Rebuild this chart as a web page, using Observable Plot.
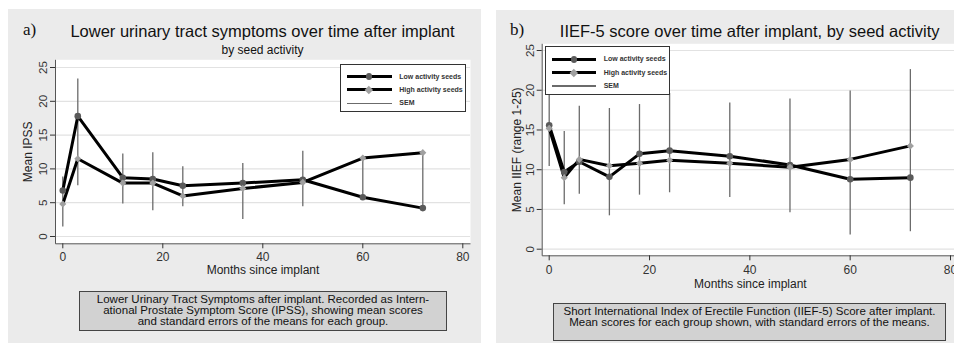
<!DOCTYPE html>
<html><head><meta charset="utf-8">
<script src="https://cdn.jsdelivr.net/npm/d3@7"></script>
<script src="https://cdn.jsdelivr.net/npm/@observablehq/plot@0.6"></script>
<style>
body{margin:0;background:#fff;font-family:"Liberation Sans",Arial,Helvetica,sans-serif;color:#111;}
#root{position:relative;width:954px;height:348px;overflow:hidden;background:#fff;}
.panel{position:absolute;background:#ebebeb;}
.abs{position:absolute;white-space:nowrap;}
.title{font-size:16.5px;line-height:1;text-align:center;}
.sub{font-size:12px;line-height:1;text-align:center;}
.tag{font-family:"Liberation Serif","Times New Roman",serif;font-size:17px;line-height:1;}
.caption{position:absolute;box-sizing:border-box;border:1px solid #444;background:#d2d2d2;text-align:center;font-size:11.5px;white-space:nowrap;}
.legend{position:absolute;box-sizing:border-box;border:1px solid #333;background:#fff;}
.lg-line{position:absolute;background:#000;}
.lg-text{position:absolute;font-size:7px;font-weight:bold;line-height:8px;margin-top:-4px;color:#333;}
.lg-dot{position:absolute;width:6.6px;height:6.6px;margin:-3.3px 0 0 -3.3px;border-radius:50%;background:#5a5a5a;}
.lg-dia{position:absolute;width:5.6px;height:5.6px;margin:-2.8px 0 0 -2.8px;background:#a0a0a0;transform:rotate(45deg);}
svg{position:absolute;overflow:visible;}
</style></head><body><div id="root"></div>
<script>
// ---- data ----
const seriesNames = ["Low activity seeds", "High activity seeds", "SEM"];
const xTicks = [0, 20, 40, 60, 80];
const yTicks = [0, 5, 10, 15, 20, 25];

const monthsA = [0, 3, 12, 18, 24, 36, 48, 60, 72];
const ipssLow = [6.8, 17.8, 8.7, 8.5, 7.5, 7.9, 8.4, 5.8, 4.2];
const ipssHigh = [4.8, 11.5, 7.9, 7.9, 6.0, 7.1, 8.0, 11.6, 12.4];
const ipssSemUpper = [8.8, 23.3, 12.2, 12.4, 10.3, 10.8, 12.6, 11.6, 12.4];
const ipssSemLower = [1.4, 7.5, 4.8, 3.8, 4.4, 2.5, 4.4, 5.8, 4.2];

const monthsB = [0, 3, 6, 12, 18, 24, 36, 48, 60, 72];
const iiefLow = [15.6, 9.7, 11.0, 9.1, 12.0, 12.4, 11.7, 10.6, 8.8, 9.0];
const iiefHigh = [15.2, 9.0, 11.3, 10.5, 10.8, 11.2, 10.8, 10.3, 11.3, 13.0];
const iiefSemUpper = [20.8, 14.8, 18.0, 17.7, 18.2, 19.6, 18.4, 18.9, 19.9, 22.6];
const iiefSemLower = [10.4, 5.6, 6.9, 4.2, 6.8, 7.1, 6.5, 4.6, 1.8, 2.2];

const root = document.getElementById("root");
const FONT = '"Liberation Sans", Arial, Helvetica, sans-serif';

function add(html) { root.insertAdjacentHTML("beforeend", html); }

function panelPlot(o) {
  const rows = o.months.map((m, i) => ({m, low: o.low[i], high: o.high[i], up: o.up[i], lo: o.lo[i]}));
  const W = o.width - o.ml - o.mr, H = o.height - o.mt - o.mb;
  const svg = Plot.plot({
    width: o.width, height: o.height,
    marginLeft: o.ml, marginRight: o.mr, marginTop: o.mt, marginBottom: o.mb,
    x: {domain: [0, 80], insetLeft: o.il, insetRight: o.ir, label: null},
    y: {domain: [0, 25], insetTop: o.it, insetBottom: o.ib, label: null},
    style: {background: "transparent", fontFamily: FONT, overflow: "visible"},
    marks: [
      Plot.frame({fill: "white", stroke: null}),
      Plot.gridY(yTicks, {stroke: "#e2e2e2", strokeOpacity: 1, strokeWidth: 1.2}),
      Plot.frame({fill: "none", stroke: "#555", strokeWidth: 1, strokeDasharray: `0,${W + H},${W + H + 2}`}),
      Plot.axisY(yTicks, {tickSize: 5, tickPadding: o.ytp, tickRotate: -90, fontSize: 11.5, color: "#333", label: null}),
      Plot.axisX(xTicks, {tickSize: 5, tickPadding: o.xtp, fontSize: 12, color: "#333", label: null}),
      Plot.text([o.ylabel], {text: d => d, frameAnchor: "left", textAnchor: "middle", lineAnchor: "middle", rotate: -90, dx: o.ylx, fontSize: 12, fill: "#222"}),
      Plot.text(["Months since implant"], {text: d => d, frameAnchor: "bottom", textAnchor: "middle", lineAnchor: "middle", dy: o.xly, fontSize: 12, fill: "#222"}),
      Plot.ruleX(rows, {x: "m", y1: "lo", y2: "up", stroke: "#6b6b6b", strokeWidth: 1.3}),
      Plot.line(rows, {x: "m", y: "low", stroke: "#000", strokeWidth: 3, strokeLinejoin: "round"}),
      Plot.line(rows, {x: "m", y: "high", stroke: "#000", strokeWidth: 3, strokeLinejoin: "round"}),
      Plot.dot(rows, {x: "m", y: "low", r: 3.3, fill: "#5a5a5a", symbol: "circle"}),
      Plot.dot(rows, {x: "m", y: "high", r: 3.2, fill: "#a0a0a0", symbol: "diamond2"})
    ]
  });
  svg.style.left = o.left + "px";
  svg.style.top = o.top + "px";
  return svg;
}

function legend(left, top, w, h, rowsY, lineLeft, lineW, textLeft) {
  const mid = lineLeft + lineW / 2;
  add(`<div class="legend" style="left:${left}px;top:${top}px;width:${w}px;height:${h}px">
    <div class="lg-line" style="left:${lineLeft}px;top:${rowsY[0] - 1.5}px;width:${lineW}px;height:3px"></div>
    <div class="lg-dot" style="left:${mid}px;top:${rowsY[0]}px"></div>
    <div class="lg-text" style="left:${textLeft}px;top:${rowsY[0]}px">${seriesNames[0]}</div>
    <div class="lg-line" style="left:${lineLeft}px;top:${rowsY[1] - 1.5}px;width:${lineW}px;height:3px"></div>
    <div class="lg-dia" style="left:${mid}px;top:${rowsY[1]}px"></div>
    <div class="lg-text" style="left:${textLeft}px;top:${rowsY[1]}px">${seriesNames[1]}</div>
    <div class="lg-line" style="left:${lineLeft}px;top:${rowsY[2] - 0.6}px;width:${lineW}px;height:1.2px;background:#6b6b6b"></div>
    <div class="lg-text" style="left:${textLeft}px;top:${rowsY[2]}px">${seriesNames[2]}</div>
  </div>`);
}

// ---- panel a ----
add(`<div class="panel" style="left:8px;top:9px;width:473px;height:334px"></div>`);
root.appendChild(panelPlot({
  left: 8, top: 9, width: 473, height: 334, ml: 47, mr: 11, mt: 50.3, mb: 99.7,
  il: 7.3, ir: 7.7, it: 7.7, ib: 7.3, ytp: 4, xtp: 4, ylx: -27, xly: 26.7,
  months: monthsA, low: ipssLow, high: ipssHigh, up: ipssSemUpper, lo: ipssSemLower,
  ylabel: "Mean IPSS"
}));
add(`<div class="abs tag" style="left:23px;top:20.5px">a)</div>`);
add(`<div class="abs title" style="left:55px;width:415px;top:22.7px">Lower urinary tract symptoms over time after implant</div>`);
add(`<div class="abs sub" style="left:55px;width:415px;top:44.1px">by seed activity</div>`);
legend(340, 64, 126, 48, [11.7, 24.7, 38.3], 5.7, 45, 58.3);
add(`<div class="caption" style="left:79px;top:290.7px;width:368px;height:40.3px;padding-top:2px;line-height:11.2px">Lower Urinary Tract Symptoms after implant. Recorded as Intern-<br>ational Prostate Symptom Score (IPSS), showing mean scores<br>and standard errors of the means for each group.</div>`);

// ---- panel b ----
add(`<div class="panel" style="left:496px;top:10px;width:462px;height:333px"></div>`);
root.appendChild(panelPlot({
  left: 496, top: 10, width: 462, height: 333, ml: 45.7, mr: 0, mt: 33.3, mb: 87.7,
  il: 7, ir: 8, it: 6.7, ib: 6.6, ytp: 3, xtp: 4.7, ylx: -25, xly: 28,
  months: monthsB, low: iiefLow, high: iiefHigh, up: iiefSemUpper, lo: iiefSemLower,
  ylabel: "Mean IIEF (range 1-25)"
}));
add(`<div class="abs tag" style="left:510px;top:20.8px">b)</div>`);
add(`<div class="abs title" style="left:541.7px;width:416px;top:22.7px">IIEF-5 score over time after implant, by seed activity</div>`);
legend(545, 46, 125, 49, [12.3, 25.7, 39], 5.7, 44.3, 57.7);
add(`<div class="caption" style="left:553px;top:303.3px;width:393px;height:37.4px;padding-top:2px;line-height:10.8px">Short International Index of Erectile Function (IIEF-5) Score after implant.<br>Mean scores for each group shown, with standard errors of the means.</div>`);
</script>
</body></html>
